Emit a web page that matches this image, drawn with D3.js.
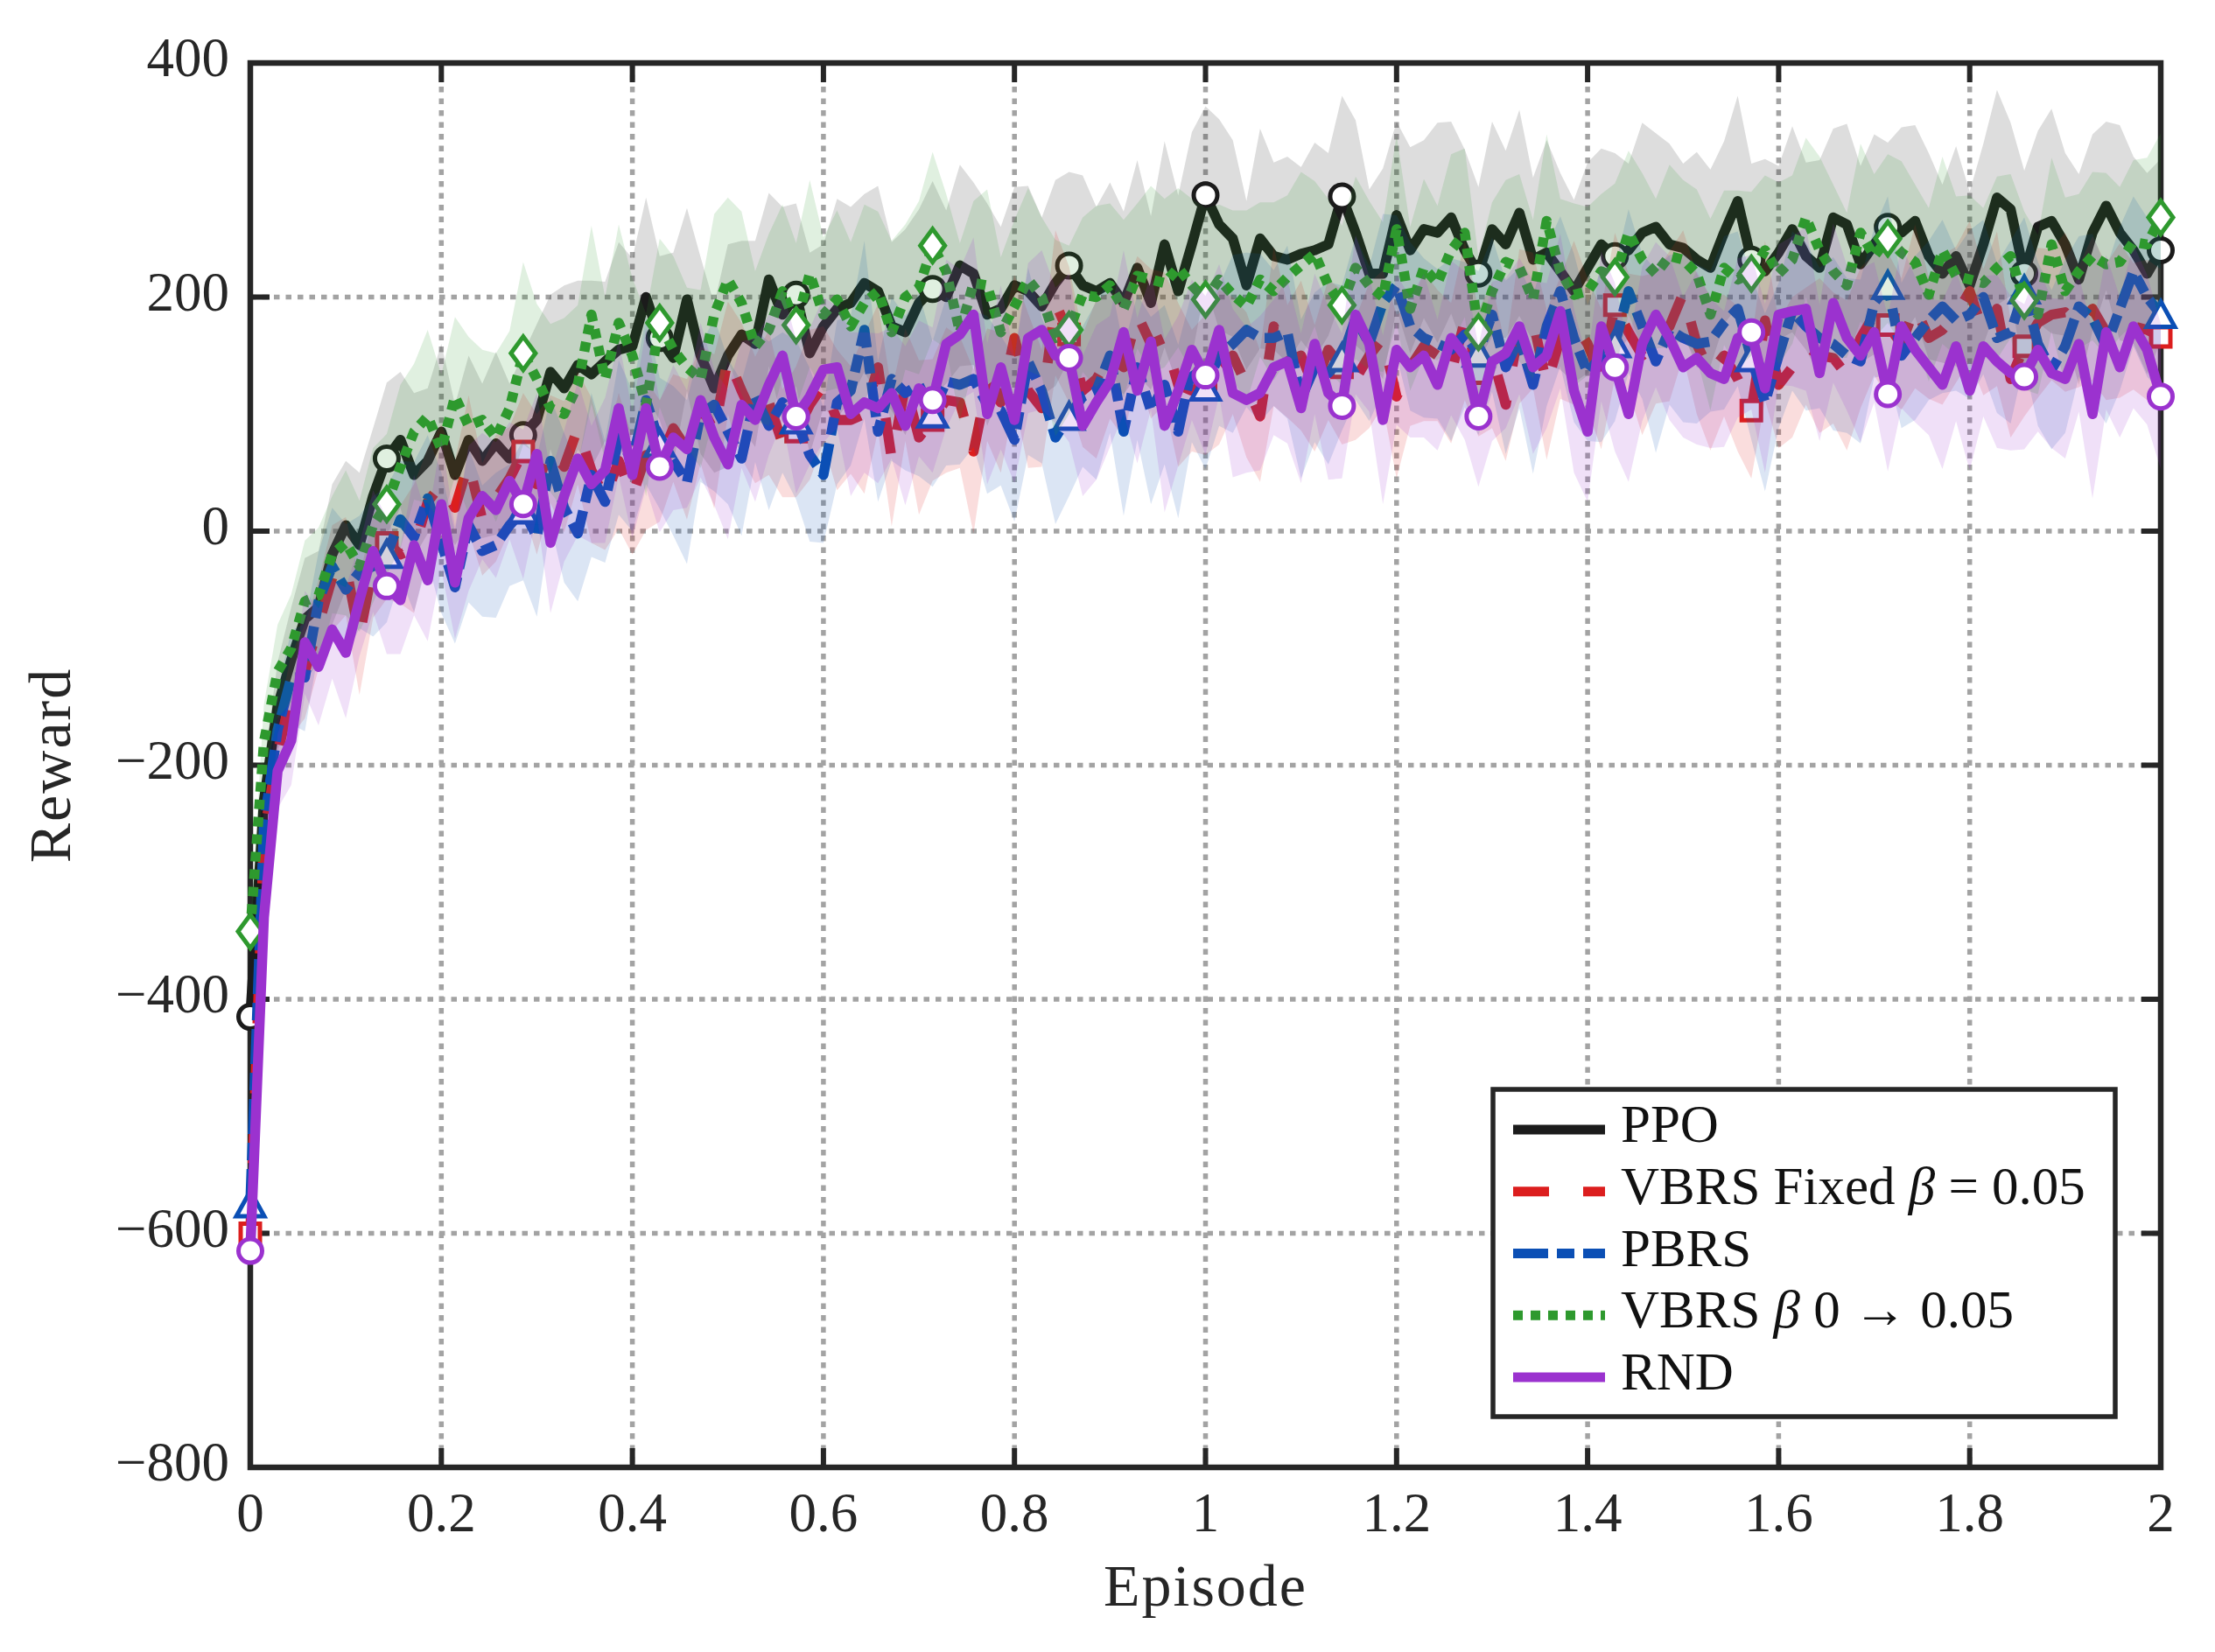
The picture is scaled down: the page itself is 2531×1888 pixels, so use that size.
<!DOCTYPE html>
<html>
<head>
<meta charset="utf-8">
<script src="https://cdn.jsdelivr.net/npm/d3@7"></script>
<style>
  body { margin: 0; background: #ffffff; }
  svg { display: block; }
</style>
</head>
<body>
<svg id="chart"></svg>
<script>
// ---- data ----
const xTicks = [0, 0.2, 0.4, 0.6, 0.8, 1, 1.2, 1.4, 1.6, 1.8, 2];
const xTickLabels = ['0', '0.2', '0.4', '0.6', '0.8', '1', '1.2', '1.4', '1.6', '1.8', '2'];
const yTicks = [-800, -600, -400, -200, 0, 200, 400];
const yTickLabels = ['\u2212800', '\u2212600', '\u2212400', '\u2212200', '0', '200', '400'];

// 141 evaluation points between 0 and 2 episodes
const episodes = d3.range(141).map(i => i / 70);
const markerEvery = 10;

const ppo = [-415, -230, -150, -110, -75, -65, -20, 5, -12, 30,
  62, 78, 48, 60, 85, 48, 78, 60, 75, 62,
  82, 95, 136, 122, 142, 134, 145, 155, 158, 200,
  165, 148, 198, 150, 122, 150, 168, 160, 215, 185,
  202, 152, 175, 190, 195, 212, 205, 175, 170, 195,
  207, 200, 227, 220, 185, 190, 210, 205, 192, 212,
  227, 210, 205, 212, 195, 225, 195, 245, 205, 245,
  287, 262, 250, 210, 250, 235, 232, 237, 240, 245,
  286, 255, 220, 220, 270, 240, 258, 255, 268, 240,
  220, 258, 245, 272, 232, 238, 222, 205, 225, 245,
  235, 240, 255, 260, 245, 242, 232, 225, 255, 282,
  232, 222, 238, 258, 235, 225, 268, 262, 228, 245,
  260, 255, 265, 235, 220, 235, 210, 245, 285, 275,
  220, 260, 265, 245, 215, 255, 278, 255, 240, 220,
  240];
const vbrsFixed = [-600, -260, -190, -140, -120, -80, -40, -30, -90, -30,
  -10, -20, -15, 25, 40, 20, 58, 10, 28, 45,
  68, 40, 70, 55, 88, 52, 28, 60, 30, 65,
  60, 88, 70, 108, 85, 148, 120, 95, 110, 75,
  85, 108, 125, 95, 95, 100, 140, 62, 125, 80,
  95, 112, 110, 68, 125, 110, 165, 120, 105, 195,
  168, 120, 130, 150, 140, 185, 160, 165, 125, 120,
  125, 140, 150, 125, 98, 175, 145, 150, 122, 155,
  140, 130, 150, 165, 115, 140, 158, 150, 135, 180,
  135, 150, 108, 175, 180, 125, 165, 178, 160, 130,
  193, 170, 150, 165, 175, 203, 160, 135, 150, 130,
  103, 180, 125, 140, 158, 150, 148, 133, 165, 185,
  176, 160, 192, 165, 172, 185, 205, 170, 190, 130,
  158, 178, 185, 187, 175, 190, 170, 180, 175, 172,
  166];
const pbrs = [-575, -250, -170, -125, -125, -60, -30, -50, -35, -30,
  -20, 10, -5, 28, -10, -48, 5, -17, -12, 5,
  18, -5, 60, 20, -2, 48, 25, 80, 60, 112,
  75, 60, 42, 100, 108, 85, 62, 115, 90, 110,
  95, 65, 48, 110, 120, 172, 85, 130, 118, 125,
  100, 128, 125, 130, 108, 103, 78, 145, 120, 80,
  98, 115, 120, 150, 85, 140, 103, 125, 85, 140,
  123, 150, 160, 172, 165, 165, 170, 113, 140, 135,
  148, 182, 160, 195, 210, 175, 165, 160, 155, 168,
  152, 185, 140, 165, 125, 175, 205, 165, 135, 150,
  160, 205, 175, 145, 172, 165, 160, 162, 178, 190,
  148, 110, 150, 188, 175, 165, 160, 150, 145, 195,
  210, 150, 165, 180, 192, 180, 185, 200, 165, 170,
  206, 160, 138, 158, 192, 182, 158, 190, 222, 200,
  185];
const vbrsRamp = [-342, -180, -120, -100, -60, -55, -20, -10, -30, 5,
  23, 55, 85, 98, 70, 115, 90, 95, 80, 105,
  152, 130, 105, 100, 125, 185, 130, 178, 150, 108,
  178, 155, 140, 130, 185, 215, 195, 158, 172, 205,
  176, 220, 185, 198, 175, 195, 205, 170, 200, 208,
  244, 222, 170, 212, 210, 170, 192, 215, 200, 165,
  172, 202, 200, 210, 190, 218, 215, 212, 225, 210,
  198, 215, 202, 192, 215, 205, 217, 227, 237, 210,
  193, 225, 210, 200, 258, 190, 225, 212, 240, 255,
  170, 205, 230, 225, 198, 265, 222, 202, 205, 222,
  217, 255, 232, 220, 235, 232, 220, 185, 225, 215,
  220, 240, 220, 232, 268, 240, 222, 210, 255, 235,
  250, 238, 230, 202, 240, 218, 215, 212, 225, 235,
  197, 185, 245, 205, 222, 235, 228, 230, 247, 245,
  268];
const rnd = [-615, -330, -205, -179, -95, -116, -84, -104, -59, -17,
  -47, -59, -12, -42, 23, -44, 11, 30, 18, 43,
  23, 66, -10, 30, 62, 40, 52, 105, 48, 105,
  55, 80, 70, 112, 80, 57, 108, 95, 125, 150,
  98, 115, 138, 140, 100, 110, 105, 118, 90, 122,
  112, 160, 168, 185, 100, 140, 95, 165, 172, 150,
  148, 90, 110, 128, 170, 120, 162, 90, 120, 155,
  133, 172, 118, 112, 118, 140, 145, 105, 160, 118,
  107, 185, 160, 95, 155, 140, 150, 125, 165, 150,
  98, 145, 152, 175, 140, 150, 188, 120, 85, 175,
  140, 100, 160, 185, 165, 140, 148, 135, 130, 165,
  170, 122, 185, 188, 190, 135, 195, 165, 150, 170,
  117, 175, 155, 140, 125, 158, 120, 158, 145, 135,
  132, 155, 135, 130, 160, 100, 170, 140, 175, 155,
  115];

// half-width of the shaded spread around each curve
const ppoSpread = [4, 30, 38, 45, 52, 48, 60, 55, 62, 58,
  65, 58, 70, 62, 75, 60, 72, 66, 78, 64,
  70, 82, 66, 88, 72, 80, 68, 92, 75, 85,
  70, 90, 78, 84, 72, 95, 80, 88, 74, 92,
  78, 86, 70, 94, 82, 76, 90, 72, 88, 80,
  92, 74, 86, 78, 95, 70, 84, 90, 76, 88,
  80, 94, 72, 86, 78, 92, 74, 88, 82, 96,
  76, 90, 84, 72, 94, 80, 88, 74, 92, 78,
  86, 96, 72, 90, 80, 88, 76, 94, 82, 86,
  74, 92, 80, 88, 70, 96, 84, 78, 90, 82,
  88, 74, 94, 80, 86, 72, 92, 84, 78, 90,
  82, 96, 74, 88, 80, 92, 76, 86, 84, 94,
  72, 90, 82, 88, 76, 94, 80, 86, 92, 74,
  88, 82, 96, 78, 90, 84, 72, 92, 80, 86,
  78];
const vbrsFixedSpread = [4, 25, 30, 35, 40, 38, 45, 42, 50, 44,
  48, 42, 55, 46, 52, 40, 58, 48, 54, 44,
  50, 60, 46, 56, 48, 62, 44, 58, 50, 64,
  52, 46, 60, 50, 66, 48, 58, 54, 62, 46,
  56, 64, 50, 60, 46, 68, 54, 58, 48, 66,
  52, 62, 56, 70, 48, 60, 54, 66, 50, 62,
  58, 48, 68, 54, 60, 50, 64, 56, 70, 52,
  60, 66, 50, 62, 56, 68, 48, 64, 54, 60,
  66, 52, 62, 58, 70, 50, 64, 56, 60, 68,
  54, 62, 48, 66, 58, 64, 52, 70, 56, 60,
  62, 50, 68, 56, 64, 54, 60, 66, 52, 62,
  58, 68, 54, 60, 50, 66, 56, 64, 60, 52,
  62, 56, 70, 52, 64, 58, 60, 54, 66, 50,
  60, 64, 56, 68, 52, 62, 58, 66, 54, 60,
  58];
const pbrsSpread = [4, 28, 34, 40, 46, 42, 50, 56, 48, 60,
  58, 50, 64, 54, 60, 48, 66, 56, 62, 52,
  60, 68, 54, 64, 58, 70, 52, 66, 60, 72,
  56, 64, 70, 58, 74, 62, 66, 56, 72, 60,
  68, 74, 58, 70, 64, 76, 60, 70, 66, 78,
  62, 72, 68, 58, 76, 64, 70, 80, 62, 74,
  68, 60, 76, 66, 72, 62, 80, 68, 74, 64,
  70, 60, 76, 66, 72, 58, 74, 68, 64, 78,
  62, 70, 66, 76, 60, 72, 68, 64, 78, 62,
  70, 66, 74, 60, 76, 68, 64, 72, 58, 74,
  66, 70, 62, 78, 64, 72, 68, 60, 74, 66,
  70, 76, 62, 68, 72, 60, 74, 66, 70, 64,
  76, 62, 70, 68, 74, 60, 72, 66, 64, 78,
  62, 70, 68, 74, 60, 72, 66, 70, 64, 68,
  66];
const vbrsRampSpread = [4, 32, 40, 46, 52, 58, 50, 62, 56, 66,
  60, 70, 58, 74, 64, 68, 76, 60, 72, 66,
  78, 64, 72, 82, 68, 76, 70, 84, 66, 78,
  72, 80, 68, 76, 86, 70, 78, 64, 82, 74,
  70, 80, 66, 76, 72, 84, 68, 78, 62, 74,
  80, 66, 76, 70, 82, 64, 74, 78, 68, 84,
  72, 66, 78, 70, 76, 62, 80, 72, 68, 74,
  78, 64, 72, 82, 66, 76, 70, 80, 62, 74,
  68, 78, 72, 64, 80, 70, 76, 66, 82, 72,
  64, 76, 70, 80, 68, 74, 62, 78, 72, 66,
  80, 70, 74, 64, 78, 68, 72, 82, 66, 76,
  70, 64, 78, 72, 68, 80, 74, 62, 76, 70,
  72, 78, 66, 74, 80, 68, 72, 64, 78, 70,
  76, 68, 74, 80, 66, 72, 78, 64, 70, 74,
  72];
const rndSpread = [4, 26, 32, 38, 44, 50, 42, 56, 48, 52,
  58, 46, 60, 52, 56, 48, 62, 54, 58, 50,
  64, 52, 60, 56, 66, 50, 62, 58, 54, 68,
  56, 62, 50, 66, 58, 64, 54, 70, 60, 56,
  66, 58, 62, 52, 70, 60, 64, 56, 68, 58,
  62, 72, 56, 66, 60, 70, 54, 64, 68, 58,
  72, 60, 66, 56, 70, 62, 58, 74, 64, 60,
  68, 56, 72, 62, 66, 58, 70, 64, 60, 74,
  62, 68, 58, 72, 64, 60, 70, 56, 66, 72,
  60, 68, 64, 58, 74, 62, 66, 70, 60, 64,
  72, 58, 66, 62, 70, 60, 74, 64, 58, 68,
  66, 72, 60, 64, 70, 58, 68, 62, 74, 60,
  66, 70, 62, 58, 72, 64, 68, 60, 74, 66,
  62, 70, 64, 68, 58, 72, 66, 60, 70, 64,
  62];

const seriesNames = ['PPO', 'VBRS Fixed \u03b2 = 0.05', 'PBRS', 'VBRS \u03b2 0 \u2192 0.05', 'RND'];
const seriesValues = [ppo, vbrsFixed, pbrs, vbrsRamp, rnd];
const seriesSpreads = [ppoSpread, vbrsFixedSpread, pbrsSpread, vbrsRampSpread, rndSpread];

// ---- styling ----
const colors = ['#1b1b1b', '#dc1e1e', '#0b4fb5', '#2e992e', '#9b32cf'];
const dashes = [null, '41,39', '40,10,20,10', '11,9', null];
const markerShapes = ['circle', 'square', 'triangle', 'diamond', 'circle'];

const W = 2531, H = 1888;
const plot = { left: 286, right: 2469, top: 72, bottom: 1677 };
const axisColor = '#262626';
const fontFamily = '"Liberation Serif", "DejaVu Serif", serif';

const svg = d3.select('#chart')
  .attr('width', W)
  .attr('height', H)
  .style('background', '#ffffff');

const x = d3.scaleLinear().domain([0, 2]).range([plot.left, plot.right]);
const y = d3.scaleLinear().domain([-800, 400]).range([plot.bottom, plot.top]);

// grid (dotted, under everything)
const grid = svg.append('g')
  .attr('stroke', '#a3a3a3')
  .attr('stroke-width', 5.5)
  .attr('stroke-dasharray', '6.5,7');
grid.selectAll('.vgrid')
  .data(xTicks.slice(1, -1))
  .join('line')
  .attr('x1', d => x(d)).attr('x2', d => x(d))
  .attr('y1', plot.top).attr('y2', plot.bottom);
grid.selectAll('.hgrid')
  .data(yTicks.slice(1, -1))
  .join('line')
  .attr('x1', plot.left).attr('x2', plot.right)
  .attr('y1', d => y(d)).attr('y2', d => y(d));

// axes box with inward ticks on all four sides
const axes = svg.append('g').attr('stroke', axisColor);
const tickLen = 22;
axes.selectAll('.xt-bottom')
  .data(xTicks)
  .join('line')
  .attr('stroke-width', 6)
  .attr('x1', d => x(d)).attr('x2', d => x(d))
  .attr('y1', plot.bottom).attr('y2', plot.bottom - tickLen);
axes.selectAll('.xt-top')
  .data(xTicks)
  .join('line')
  .attr('class', 'xt-top')
  .attr('stroke-width', 6)
  .attr('x1', d => x(d)).attr('x2', d => x(d))
  .attr('y1', plot.top).attr('y2', plot.top + tickLen);
axes.selectAll('.yt-left')
  .data(yTicks)
  .join('line')
  .attr('class', 'yt-left')
  .attr('stroke-width', 6)
  .attr('x1', plot.left).attr('x2', plot.left + tickLen)
  .attr('y1', d => y(d)).attr('y2', d => y(d));
axes.selectAll('.yt-right')
  .data(yTicks)
  .join('line')
  .attr('class', 'yt-right')
  .attr('stroke-width', 6)
  .attr('x1', plot.right).attr('x2', plot.right - tickLen)
  .attr('y1', d => y(d)).attr('y2', d => y(d));
axes.append('rect')
  .attr('x', plot.left).attr('y', plot.top)
  .attr('width', plot.right - plot.left)
  .attr('height', plot.bottom - plot.top)
  .attr('fill', 'none')
  .attr('stroke-width', 6.5);

// tick labels
const labels = svg.append('g')
  .attr('font-family', fontFamily)
  .attr('font-size', 63)
  .attr('fill', axisColor);
labels.selectAll('.xl')
  .data(xTicks)
  .join('text')
  .attr('x', d => x(d))
  .attr('y', 1750)
  .attr('text-anchor', 'middle')
  .text((d, i) => xTickLabels[i]);
labels.selectAll('.yl')
  .data(yTicks)
  .join('text')
  .attr('x', 262)
  .attr('y', d => y(d) + 15)
  .attr('text-anchor', 'end')
  .text((d, i) => yTickLabels[i]);

// axis titles
svg.append('text')
  .attr('x', (plot.left + plot.right) / 2)
  .attr('y', 1835)
  .attr('text-anchor', 'middle')
  .attr('font-family', fontFamily)
  .attr('font-size', 68)
  .attr('letter-spacing', 2)
  .attr('fill', axisColor)
  .text('Episode');
svg.append('text')
  .attr('transform', `translate(80, ${(plot.top + plot.bottom) / 2}) rotate(-90)`)
  .attr('text-anchor', 'middle')
  .attr('font-family', fontFamily)
  .attr('font-size', 68)
  .attr('letter-spacing', 2)
  .attr('fill', axisColor)
  .text('Reward');

// markers
function markerPath(shape) {
  if (shape === 'square') return 'M-11,-11H11V11H-11Z';
  if (shape === 'triangle') return 'M0,-15L16,14L-16,14Z';
  if (shape === 'diamond') return 'M0,-19L14,0L0,19L-14,0Z';
  return d3.path().toString();
}

// series: spread band, then line, then markers (in plotting order)
const data = svg.append('g');
seriesValues.forEach((vals, s) => {
  const spread = seriesSpreads[s];
  const g = data.append('g');

  const area = d3.area()
    .x((d, i) => x(episodes[i]))
    .y0((d, i) => y(d - spread[i]))
    .y1((d, i) => y(d + spread[i]));
  g.append('path')
    .datum(vals)
    .attr('d', area)
    .attr('fill', colors[s])
    .attr('fill-opacity', 0.15)
    .attr('stroke', 'none');

  const line = d3.line()
    .x((d, i) => x(episodes[i]))
    .y(d => y(d));
  g.append('path')
    .datum(vals)
    .attr('d', line)
    .attr('fill', 'none')
    .attr('stroke', colors[s])
    .attr('stroke-width', 11.5)
    .attr('stroke-linejoin', 'round')
    .attr('stroke-linecap', dashes[s] ? 'butt' : 'round')
    .attr('stroke-dasharray', dashes[s]);

  const marks = vals.map((v, i) => ({ xv: episodes[i], yv: v, i }))
    .filter(d => d.i % markerEvery === 0);
  const shape = markerShapes[s];
  const m = g.selectAll('.mk')
    .data(marks)
    .join(shape === 'circle' ? 'circle' : 'path')
    .attr('fill', '#ffffff')
    .attr('stroke', colors[s])
    .attr('stroke-width', 5);
  if (shape === 'circle') {
    m.attr('cx', d => x(d.xv)).attr('cy', d => y(d.yv)).attr('r', 13.5);
  } else {
    m.attr('d', markerPath(shape))
      .attr('transform', d => `translate(${x(d.xv)},${y(d.yv)})`);
  }
});

// legend
const legend = svg.append('g');
legend.append('rect')
  .attr('x', 1706).attr('y', 1245)
  .attr('width', 711).attr('height', 374)
  .attr('fill', '#ffffff')
  .attr('stroke', axisColor)
  .attr('stroke-width', 5.5);
const rowY = d3.scaleLinear().domain([0, 4]).range([1291, 1574]);
seriesNames.forEach((name, s) => {
  const ly = rowY(s);
  legend.append('line')
    .attr('x1', 1729).attr('x2', 1834)
    .attr('y1', ly).attr('y2', ly)
    .attr('stroke', colors[s])
    .attr('stroke-width', 11)
    .attr('stroke-dasharray', dashes[s]);
  const t = legend.append('text')
    .attr('x', 1852)
    .attr('y', ly + 14)
    .attr('font-family', fontFamily)
    .attr('font-size', 61)
    .attr('fill', '#111111');
  name.split('\u03b2').forEach((part, k) => {
    if (k > 0) t.append('tspan').attr('font-style', 'italic').text('\u03b2');
    t.append('tspan').text(part);
  });
});
</script>
</body>
</html>
